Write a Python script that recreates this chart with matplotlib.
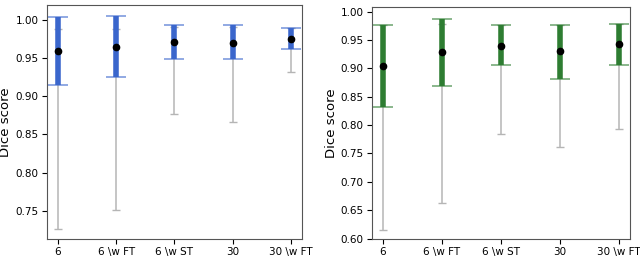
import numpy as np
import matplotlib
matplotlib.use("Agg")
import matplotlib.pyplot as plt

labels = ["6", "6 \\w FT", "6 \\w ST", "30", "30 \\w FT"]

# left panel
mean_l = [0.959, 0.964, 0.971, 0.970, 0.975]
lo_l = [0.915, 0.925, 0.949, 0.949, 0.962]
hi_l = [1.003, 1.004, 0.993, 0.993, 0.989]
min_l = [0.726, 0.752, 0.877, 0.866, 0.932]
max_l = [0.988, 0.988, 0.990, 0.990, 0.989]

# right panel
mean_r = [0.904, 0.928, 0.940, 0.930, 0.942]
lo_r = [0.832, 0.868, 0.905, 0.881, 0.906]
hi_r = [0.976, 0.987, 0.976, 0.976, 0.978]
min_r = [0.615, 0.662, 0.784, 0.762, 0.793]
max_r = [0.976, 0.978, 0.977, 0.976, 0.978]


def panel(ax, mean, lo, hi, mn, mx, color, ylim, yticks):
    x = np.arange(len(labels))
    mean = np.array(mean)
    ax.errorbar(x, mean, yerr=[mean - np.array(mn), np.array(mx) - mean],
                fmt="none", ecolor="#b5b5b5", elinewidth=1.1, capsize=3,
                capthick=1.0, zorder=1)
    eb = ax.errorbar(x, mean, yerr=[mean - np.array(lo), np.array(hi) - mean],
                     fmt="none", ecolor=color, elinewidth=4, capsize=7,
                     capthick=1.3, zorder=2)
    for cap in eb[1]:
        cap.set_alpha(0.6)
    ax.plot(x, mean, "o", color="black", ms=4.5, zorder=3)
    ax.set_xticks(x)
    ax.set_xticklabels(labels, fontsize=7.5)
    ax.set_xlim(-0.19, 4.19)
    ax.set_ylim(*ylim)
    ax.set_yticks(yticks)
    ax.set_yticklabels([f"{t:.2f}" for t in yticks], fontsize=7.5)
    ax.tick_params(pad=2.5)
    ax.set_ylabel("Dice score", fontsize=9.5, labelpad=2)
    for s in ax.spines.values():
        s.set_color("#555555")


fig = plt.figure(figsize=(6.4, 2.61), dpi=100)
ax1 = fig.add_axes([0.073, 0.084, 0.399, 0.897])
ax2 = fig.add_axes([0.581, 0.084, 0.403, 0.889])

panel(ax1, mean_l, lo_l, hi_l, min_l, max_l, "#3a66cc", (0.7135, 1.019),
      [0.75, 0.80, 0.85, 0.90, 0.95, 1.00])
panel(ax2, mean_r, lo_r, hi_r, min_r, max_r, "#2e7d32", (0.599, 1.008),
      [0.60, 0.65, 0.70, 0.75, 0.80, 0.85, 0.90, 0.95, 1.00])

fig.savefig("out.png", dpi=100)
